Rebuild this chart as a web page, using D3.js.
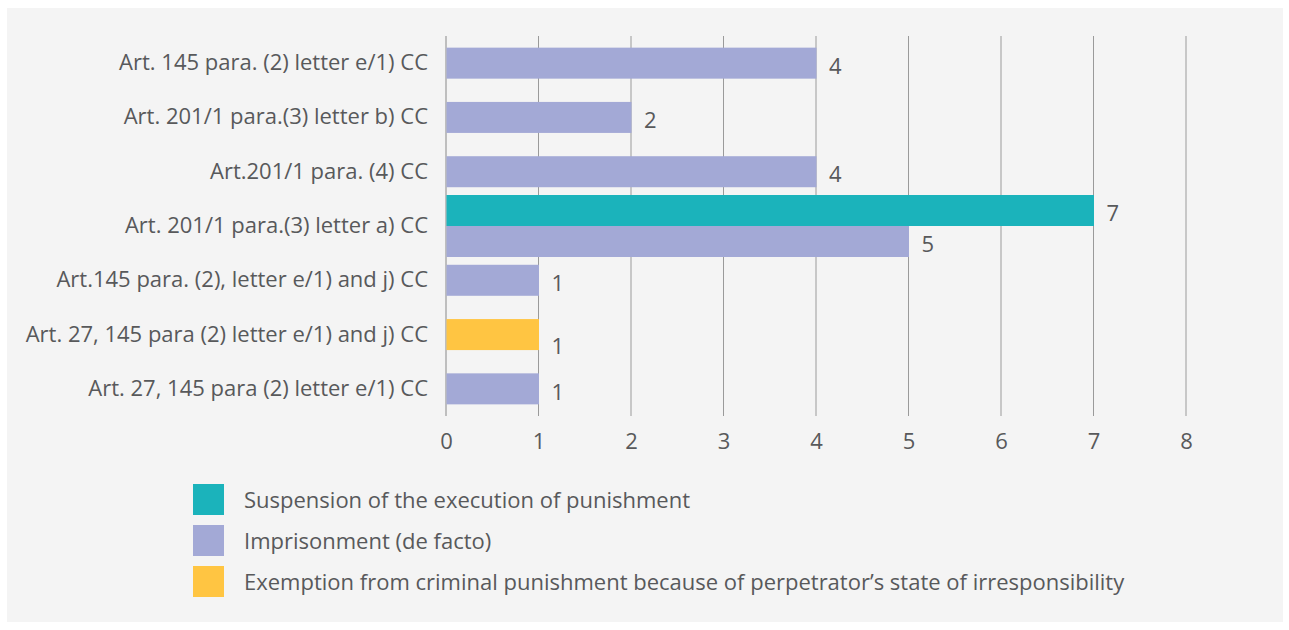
<!DOCTYPE html>
<html>
<head>
<meta charset="utf-8">
<script src="https://cdn.jsdelivr.net/npm/d3@7"></script>
<style>
  body { margin: 0; background: #fff; }
  svg text { font-family: "Open Sans", sans-serif; fill: #58595b; }
</style>
</head>
<body>
<div id="chart"></div>
<script>
// categories, top to bottom
var categories = [
  "Art. 145 para. (2) letter e/1) CC",
  "Art. 201/1 para.(3) letter b) CC",
  "Art.201/1 para. (4) CC",
  "Art. 201/1 para.(3) letter a) CC",
  "Art.145 para. (2), letter e/1) and j) CC",
  "Art. 27, 145 para (2) letter e/1) and j) CC",
  "Art. 27, 145 para (2) letter e/1) CC"
];
var seriesNames = [
  "Suspension of the execution of punishment",
  "Imprisonment (de facto)",
  "Exemption from criminal punishment because of perpetrator\u2019s state of irresponsibility"
];
var suspension = [0, 0, 0, 7, 0, 0, 0];
var imprisonment = [4, 2, 4, 5, 1, 0, 1];
var exemption = [0, 0, 0, 0, 0, 1, 0];
var xTicks = [0, 1, 2, 3, 4, 5, 6, 7, 8];

var colors = ["#1bb3bb", "#a3a9d6", "#ffc542"];
var seriesValues = [suspension, imprisonment, exemption];

var W = 1289, H = 630;
var svg = d3.select("#chart").append("svg")
  .attr("width", W)
  .attr("height", H);

// panel
svg.append("rect")
  .attr("x", 7).attr("y", 8)
  .attr("width", 1276).attr("height", 614)
  .attr("fill", "#f4f4f4");

var x = d3.scaleLinear().domain([0, 8]).range([446, 1186]);
var y = d3.scaleBand().domain(categories).range([36, 416]);
var barH = 31;

// gridlines
svg.append("g")
  .selectAll("line")
  .data(xTicks)
  .join("line")
  .attr("x1", function(d) { return x(d); })
  .attr("x2", function(d) { return x(d); })
  .attr("y1", 36)
  .attr("y2", 416)
  .attr("stroke", function(d) { return d === 0 ? "#888" : "#9a9a9a"; })
  .attr("stroke-width", 1);

// x axis labels
var xAxis = d3.axisBottom(x)
  .tickValues(xTicks)
  .tickSize(0)
  .tickPadding(17);
var gx = svg.append("g")
  .attr("transform", "translate(0,416)")
  .call(xAxis);
gx.select(".domain").remove();
gx.selectAll("text")
  .style("font-size", "22px")
  .attr("fill", "#58595b");

// category labels
var yAxis = d3.axisLeft(y).tickSize(0).tickPadding(18);
var gy = svg.append("g")
  .attr("transform", "translate(446,0)")
  .call(yAxis);
gy.select(".domain").remove();
gy.selectAll("text")
  .style("font-size", "22px")
  .attr("fill", "#58595b");

// bars: non-zero series stacked vertically around the band center
var bars = [];
categories.forEach(function(c, i) {
  var present = [];
  seriesValues.forEach(function(vals, s) {
    if (vals[i] > 0) present.push({cat: c, s: s, value: vals[i]});
  });
  present.forEach(function(d, k) {
    d.y = y(c) + y.bandwidth() / 2 - present.length * barH / 2 + k * barH;
    bars.push(d);
  });
});

svg.append("g")
  .selectAll("rect")
  .data(bars)
  .join("rect")
  .attr("x", x(0) + 0.5)
  .attr("y", function(d) { return d.y; })
  .attr("width", function(d) { return x(d.value) - x(0); })
  .attr("height", barH)
  .attr("fill", function(d) { return colors[d.s]; });

svg.append("g")
  .selectAll("text")
  .data(bars)
  .join("text")
  .attr("x", function(d) { return x(d.value) + 13; })
  .attr("y", function(d) { return d.y + barH / 2 + (d.s === 2 ? 12 : 3); })
  .attr("dy", "0.35em")
  .style("font-size", "22px")
  .text(function(d) { return d.value; });

// legend
var legend = svg.append("g")
  .selectAll("g")
  .data(seriesNames)
  .join("g")
  .attr("transform", function(d, i) { return "translate(193," + (484 + i * 41) + ")"; });
legend.append("rect")
  .attr("width", 31)
  .attr("height", 31)
  .attr("fill", function(d, i) { return colors[i]; });
legend.append("text")
  .attr("x", 51)
  .attr("y", 16)
  .attr("dy", "0.35em")
  .style("font-size", "22px")
  .text(function(d) { return d; });
</script>
</body>
</html>
